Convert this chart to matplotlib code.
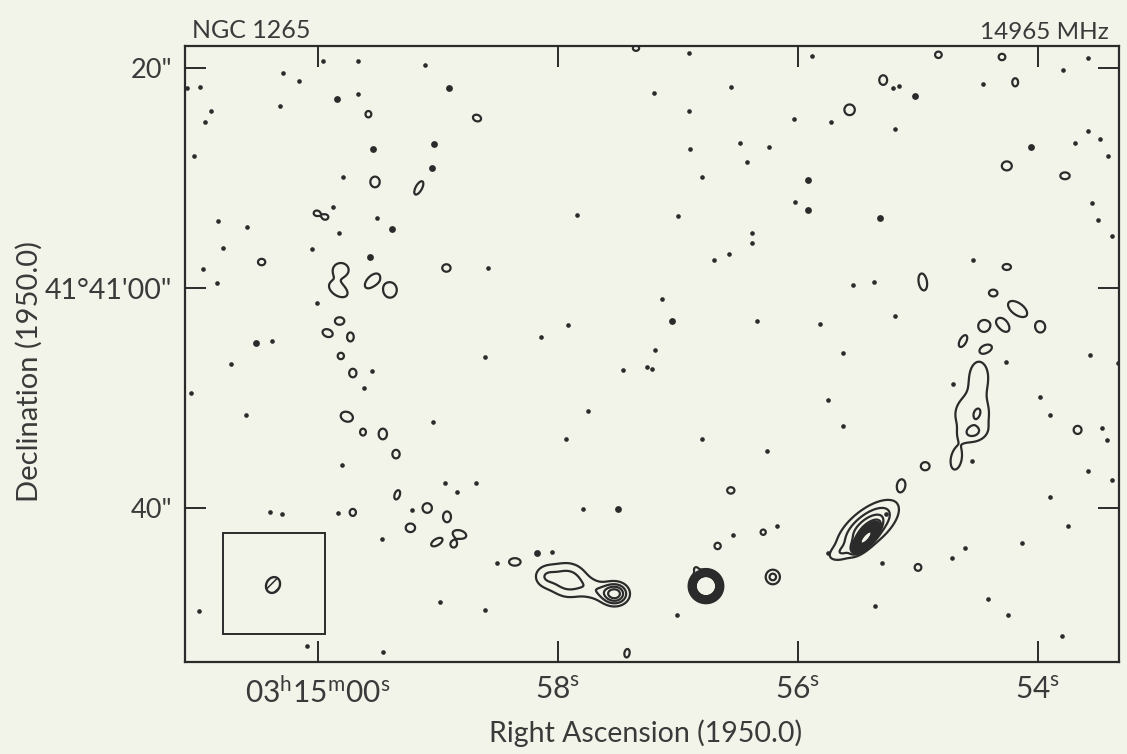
import numpy as np
import matplotlib
matplotlib.use("Agg")
import matplotlib.pyplot as plt
from matplotlib.patches import Rectangle

# NGC 1265 at 14965 MHz, contour map
# x: RA seconds relative to 03h15m00s (1950), y: Dec arcsec relative to 41d41m00s

# extended emission: ra, dec, peak, sigma major ("), sigma minor ("), angle (deg)
comp_ra   = [-3.233, -3.15, -3.79, -2.475, -2.083, -2.31, -1.89,
             -4.58, -4.567, -4.35,
             -5.508, -5.45, -5.50, -5.458, -5.317]
comp_dec  = [-27.1, -25.55, -26.27, -27.8, -26.55, -27.45, -26.2,
             -21.75, -22.7, -24.1,
             -7.9, -11.5, -11.36, -13.2, -15.6]
comp_amp  = [185, 1.2, 2.4, 4.6, 2.6, 1.4, 1.4,
             4.0, 45, 1.0,
             1.5, 1.7, 0.6, 1.3, 1.4]
comp_smaj = [0.5, 0.25, 0.5, 0.8, 1.3, 1.0, 0.8,
             2.1, 0.7, 0.9,
             1.3, 1.6, 0.5, 0.85, 1.1]
comp_smin = [0.48, 0.25, 0.5, 0.65, 1.1, 0.65, 0.75,
             0.95, 0.28, 0.45,
             0.85, 1.5, 0.3, 0.55, 0.58]
comp_pa   = [0, 0, 0, 0, -10, -15, 10,
             38, 48, 20,
             90, 90, 70, 10, 80]

# small single-contour islands: ra, dec, radius along angle, radius across, angle
isl_ra  = [-0.475, -0.84, 0.01, -0.06, 0.47, -0.19, -0.17, -0.45, -0.6, -0.18,
           -0.08, -0.27, -0.19, -0.29, -0.24, -0.375, -0.54, -0.65, -0.66, -0.29,
           -0.91, -1.075, -0.77, -0.99, -1.18, -1.13, -1.64, -1.07, -1.325, -0.42,
           -4.43, -4.71, -5.17, -5.7, -5.81, -5.74, -6.225, -5.74, -5.625, -5.83,
           -6.02, -5.71, -5.55, -5.375, -5.57, -5.04, -6.33, -5.06, -4.86, -5.0,
           -3.33, -3.71, -3.44, -2.575, -2.65]
isl_dec = [9.64, 9.1, 6.8, 6.45, 2.36, 1.64, -0.18, 0.64, -0.18, -3.0,
           -4.1, -4.45, -6.18, -7.73, -11.7, -13.1, -13.27, -15.1, -18.8, -20.4,
           -20.0, -20.8, -21.8, -23.1, -22.4, -23.3, -24.9, 1.82, 15.45, 15.8,
           16.2, 18.9, 21.2, 21.0, 18.7, 11.1, 10.2, 1.91, -0.45, -1.91,
           -3.55, -3.36, -3.45, -4.82, -5.5, 0.55, -12.9, -16.2, -17.9, -25.4,
           -23.45, -22.2, -18.4, -33.2, 21.8]
isl_ra1 = [0.45, 0.7, 0.3, 0.3, 0.35, 0.75, 0.95, 0.85, 0.65, 0.45,
           0.5, 0.32, 0.3, 0.35, 0.6, 0.28, 0.4, 0.35, 0.45, 0.3,
           0.45, 0.38, 0.45, 0.6, 0.65, 0.3, 0.55, 0.4, 0.4, 0.28,
           0.5, 0.38, 0.32, 0.32, 0.28, 0.48, 0.45, 0.4, 0.38, 1.05,
           0.45, 0.75, 0.55, 0.6, 0.5, 0.8, 0.38, 0.42, 0.5, 0.32,
           0.3, 0.25, 0.35, 0.4, 0.3]
isl_ra2 = [0.5, 0.3, 0.25, 0.25, 0.3, 0.65, 0.55, 0.45, 0.72, 0.35,
           0.35, 0.42, 0.3, 0.4, 0.45, 0.32, 0.5, 0.4, 0.25, 0.33,
           0.45, 0.5, 0.4, 0.3, 0.38, 0.3, 0.35, 0.35, 0.3, 0.3,
           0.5, 0.45, 0.3, 0.3, 0.38, 0.42, 0.32, 0.28, 0.3, 0.55,
           0.5, 0.45, 0.55, 0.3, 0.3, 0.4, 0.38, 0.38, 0.35, 0.32,
           0.3, 0.25, 0.3, 0.25, 0.25]
isl_pa  = [0, 60, 0, 0, 0, 0, -30, 45, 0, 0,
           -20, 0, 0, 0, -20, 0, 0, 0, 70, 0,
           0, 0, 0, 30, -15, 0, 0, 0, -20, 0,
           0, 0, 0, 0, 0, 0, 0, 0, 0, -35,
           0, -50, 0, 60, 20, 100, 0, 0, 80, 0,
           0, 0, 0, 80, 0]

# unresolved noise specks
dot_ra = [-0.04, -0.33, 0.29, 0.16, -0.33, 0.32, -0.21, -0.125, -0.49, 0.98,
          1.09, 0.89, 0.94, 1.03, 0.83, 0.59, -0.175, 0.79, 0.05, 0.96,
          0.84, 0.01, 0.38, 0.725, -0.45, -0.38, 0.6, -0.2, 1.06, -1.42,
          -2.08, -1.86, -1.39, -2.87, -2.81, -2.54, -2.74, -2.78, -3.3, -3.425,
          -2.25, -2.07, -3.2, -0.96, -1.06, -1.16, -1.32, -3.62, -4.46, -4.63,
          -3.66, -4.18, -4.81, -4.375, -4.25, -4.375, -3.74, -5.46, -6.62, -6.43,
          -6.67, -6.02, -6.1, -6.53, -6.575, -6.42, -5.73, -5.29, -5.45, -3.44,
          -3.97, -4.275, -4.81, -4.79, -4.84, -4.12, -6.42, -6.21, -6.42, -6.52,
          -6.58, -6.31, -3.575, -3.52, -3.76, -3.2, -3.975, -3.62, -5.54, -6.45,
          -6.5, -1.49, -1.95, -1.39, -2.99, -3.46, -3.825, -4.25, 0.99, 0.4,
          0.3, -0.17, -0.53, 0.09, -0.54, -1.02, -0.78, -4.73, -5.39, -5.28,
          -4.7, -4.64, -5.58, -5.75, -5.87, -6.25, -6.1, -6.62, -6.2, -0.89,
          -3.09, -2.8, -3.09, -3.1, -2.16, -3.0, -2.21]
dot_dec = [20.6, 20.6, 19.5, 18.8, 17.6, 16.5, 10.1, 7.4, 6.4, 18.3,
           18.2, 16.1, 15.1, 12.0, 6.1, 5.5, 5.0, 3.6, 3.55, 1.7,
           0.45, -1.36, -4.8, -6.9, -7.55, -9.1, -11.5, -16.1, -9.5, 1.8,
           -3.36, -4.45, -6.27, -1.0, -5.64, -7.45, -7.2, -7.36, 2.55, 3.1,
           -11.2, -13.7, -13.7, -12.2, -17.7, -18.5, -17.7, 4.1, 0.27, 0.55,
           -3.0, -3.27, -2.55, -5.9, -10.2, -12.55, -14.8, 2.55, 4.7, -6.1,
           -6.8, -9.9, -11.5, -12.7, -13.8, -16.6, -6.7, -8.7, -15.7, 18.3,
           15.4, 15.1, 14.45, 18.2, 18.4, 21.1, 20.9, 19.8, 14.3, 13.5,
           12.0, 13.2, 11.45, 13.2, 12.8, 10.1, 7.8, 5.0, 18.5, 7.7,
           6.2, -25.0, -24.0, -29.3, -29.7, -22.45, -21.6, -24.1, -29.4, -20.4,
           -20.5, -20.45, -22.8, -32.5, -33.1, -28.5, -20.2, -20.5, -23.6, -24.5,
           -25.0, -28.9, -28.3, -29.7, -23.2, -21.6, -19.0, -17.45, -31.6, 20.3,
           21.4, 17.7, 16.1, 12.6, 6.6, 6.55, -20.1]
big_ra  = [-0.16, -0.62, -0.43, 0.52, -2.95, -4.975, -5.94, -4.08, -4.08, -4.68,
           -1.825, -1.09, -0.97, -0.95, -2.5, -0.46]
big_dec = [17.2, 5.4, 2.8, -5.0, -3.0, 17.45, 12.8, 9.8, 7.1, 6.4,
           -24.1, 18.2, 13.1, 10.9, -20.1, 12.6]

levels = [1, 2, 3, 4, 5, 6, 8, 10, 12, 14, 16, 18, 20, 22, 24, 26, 28, 30]

# restoring beam and its box
beam_ra, beam_dec, beam_maj, beam_min, beam_pa = 0.375, -27.0, 0.75, 0.62, 60
box_ra = [0.79, -0.06]
box_dec = [-31.45, -22.3]

xticks = [0, -2, -4, -6]
xlabels = ['03$^{\\mathrm{h}}$15$^{\\mathrm{m}}$00$^{\\mathrm{s}}$',
           '58$^{\\mathrm{s}}$', '56$^{\\mathrm{s}}$', '54$^{\\mathrm{s}}$']
yticks = [20, 0, -20]
ylabels = ['20"', "41°41'00\"", '40"']

SEC = 11.2  # arcsec per second of RA at this declination
ink = '#2b2b2b'
txt = '#3a3a3a'
paper = '#f3f4e9'

plt.rcParams['font.family'] = ['Lato', 'DejaVu Sans']
plt.rcParams['mathtext.fontset'] = 'custom'
plt.rcParams['mathtext.rm'] = 'Lato'
plt.rcParams['hatch.linewidth'] = 1.1

xlim = (1.108, -6.675)
ylim = (-34.0, 22.0)
X, Y = np.meshgrid(np.linspace(xlim[0], xlim[1], 1800),
                   np.linspace(ylim[0], ylim[1], 1150))


def gauss(ra0, dec0, amp, a, b, pa):
    dx = -(X - ra0) * SEC
    dy = Y - dec0
    t = np.deg2rad(pa)
    u = dx * np.cos(t) + dy * np.sin(t)
    v = -dx * np.sin(t) + dy * np.cos(t)
    return amp * np.exp(-0.5 * ((u / a) ** 2 + (v / b) ** 2))


Z = np.zeros_like(X)
for p in zip(comp_ra, comp_dec, comp_amp, comp_smaj, comp_smin, comp_pa):
    Z += gauss(*p)
for r0, d0, a, b, pa in zip(isl_ra, isl_dec, isl_ra1, isl_ra2, isl_pa):
    Z += gauss(r0, d0, 1.6, a, b, pa)

fig = plt.figure(figsize=(11.27, 7.54), dpi=100, facecolor=paper)
ax = fig.add_axes([0.1642, 0.122, 0.8287, 0.817])
ax.set_facecolor(paper)

ax.contour(X, Y, Z, levels=levels, colors=ink, linewidths=1.6)
ax.scatter(dot_ra, dot_dec, s=11, color=ink, lw=0)
ax.scatter(big_ra, big_dec, s=24, color=ink, lw=0)

# beam
t = np.linspace(0, 2 * np.pi, 100)
th = np.deg2rad(beam_pa)
u = beam_maj * np.cos(t)
v = beam_min * np.sin(t)
bx = beam_ra - (u * np.cos(th) - v * np.sin(th)) / SEC
by = beam_dec + (u * np.sin(th) + v * np.cos(th))
ax.fill(bx, by, facecolor='none', edgecolor=ink, hatch='///', lw=1.7)
ax.add_patch(Rectangle((box_ra[0], box_dec[0]), box_ra[1] - box_ra[0],
                       box_dec[1] - box_dec[0], fill=False, ec=ink, lw=1.4))

ax.set_xlim(*xlim)
ax.set_ylim(*ylim)
ax.set_xticks(xticks)
ax.set_xticklabels(xlabels)
ax.set_yticks(yticks)
ax.set_yticklabels(ylabels)
ax.tick_params(direction='in', length=15, width=1.4, color=ink,
               labelcolor=txt, top=True, right=True)
ax.tick_params(axis='x', pad=10, labelsize=21.5)
ax.tick_params(axis='y', pad=9, labelsize=19.5)
ax.get_yticklabels()[1].set_fontsize(20.5)
for s in ax.spines.values():
    s.set_color(ink)
    s.set_linewidth(1.6)

tkw = dict(color=txt)
fig.text(192 / 1127, 1 - 38 / 754, 'NGC 1265', ha='left', va='baseline',
         fontsize=18, **tkw)
fig.text(1109 / 1127, 1 - 39 / 754, '14965 MHz', ha='right', va='baseline',
         fontsize=17.5, **tkw)
fig.text(646 / 1127, 1 - 733 / 754, 'Right Ascension (1950.0)', ha='center',
         va='center', fontsize=20.5, **tkw)
fig.text(29 / 1127, 1 - 371 / 754, 'Declination (1950.0)', ha='center',
         va='center', rotation=90, fontsize=21, **tkw)

fig.savefig('out.png', dpi=100, facecolor=paper)
